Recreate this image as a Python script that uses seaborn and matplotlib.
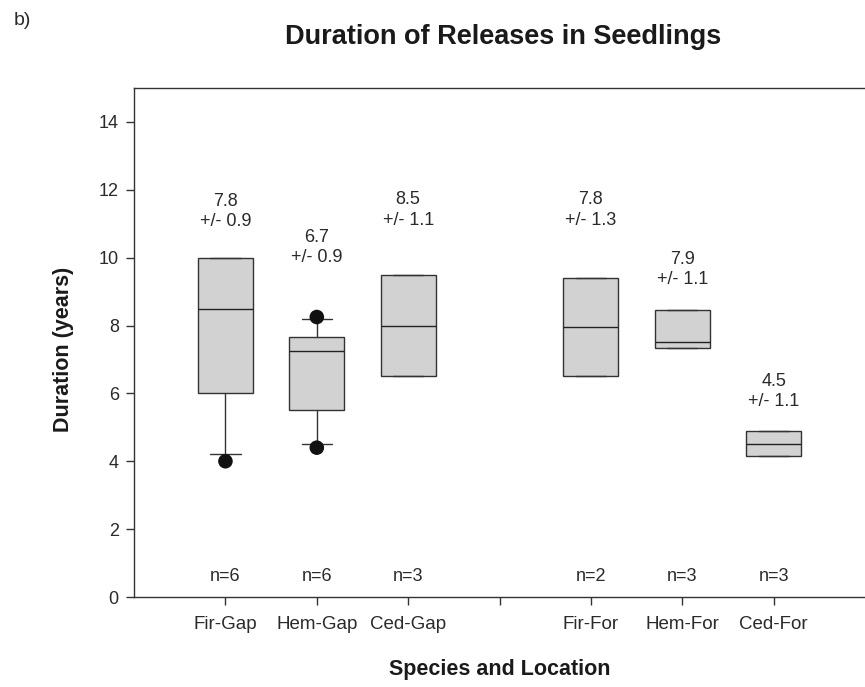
import matplotlib
matplotlib.use("Agg")
import matplotlib.pyplot as plt
import seaborn as sns
import pandas as pd

# ---- data ----
categories = ["Fir-Gap", "Hem-Gap", "Ced-Gap", "", "Fir-For", "Hem-For", "Ced-For"]
box_labels = ["Fir-Gap", "Hem-Gap", "Ced-Gap", "Fir-For", "Hem-For", "Ced-For"]
box_pos = [1, 2, 3, 5, 6, 7]
q1 = [6.0, 5.5, 6.5, 6.5, 7.35, 4.15]
median = [8.5, 7.25, 8.0, 7.95, 7.5, 4.5]
q3 = [10.0, 7.65, 9.5, 9.4, 8.45, 4.9]
whis_lo = [4.2, 4.5, 6.5, 6.5, 7.35, 4.15]
whis_hi = [10.0, 8.2, 9.5, 9.4, 8.45, 4.9]
outlier_group = ["Fir-Gap", "Hem-Gap", "Hem-Gap"]
outlier_pos = [1, 2, 2]
outlier_val = [4.0, 4.4, 8.25]
means = ["7.8", "6.7", "8.5", "7.8", "7.9", "4.5"]
sds = ["0.9", "0.9", "1.1", "1.3", "1.1", "1.1"]
label_y = [11.35, 10.3, 11.4, 11.4, 9.65, 6.05]
n_labels = ["n=6", "n=6", "n=3", "n=2", "n=3", "n=3"]
yticks = [0, 2, 4, 6, 8, 10, 12, 14]

sns.set_theme(style="ticks")
plt.rcParams["font.family"] = ["Liberation Sans", "DejaVu Sans"]

fig = plt.figure(figsize=(8.65, 6.87), dpi=100)
ax = fig.add_axes([0.155, 0.131, 0.845, 0.741])

stats = []
for i, lab in enumerate(box_labels):
    stats.append(dict(label=lab, q1=q1[i], med=median[i], q3=q3[i],
                      whislo=whis_lo[i], whishi=whis_hi[i], fliers=[]))

ax.bxp(stats, positions=box_pos, widths=0.6, patch_artist=True,
       showfliers=False, capwidths=0.33,
       boxprops=dict(facecolor="#d2d2d2", edgecolor="#333333", linewidth=1.0),
       medianprops=dict(color="#222222", linewidth=1.0),
       whiskerprops=dict(color="#333333", linewidth=1.0),
       capprops=dict(color="#333333", linewidth=1.0),
       manage_ticks=False)

out_df = pd.DataFrame({"pos": outlier_pos, "val": outlier_val, "group": outlier_group})
sns.scatterplot(data=out_df, x="pos", y="val", ax=ax, color="#111111",
                s=110, edgecolor="none", zorder=5, legend=False)

for i, p in enumerate(box_pos):
    ax.text(p, label_y[i], f"{means[i]}\n+/- {sds[i]}", ha="center", va="center",
            fontsize=13, color="#2a2a2a", linespacing=1.25)
    ax.text(p, 0.6, n_labels[i], ha="center", va="center", fontsize=13,
            color="#2a2a2a")

ax.set_xlim(0, 8)
ax.set_ylim(0, 15)
ax.set_xticks(range(1, 8))
ax.set_xticklabels(categories)
ax.set_yticks(yticks)
ax.tick_params(axis="both", colors="#333333", labelcolor="#2a2a2a",
               direction="out", length=6, width=1)
ax.tick_params(axis="x", labelsize=13.5, pad=8)
ax.tick_params(axis="y", labelsize=13, pad=5)
for s in ["left", "bottom", "top"]:
    ax.spines[s].set_color("#333333")
    ax.spines[s].set_linewidth(1.0)
ax.spines["right"].set_visible(False)

ax.set_xlabel("Species and Location", fontsize=15.5, fontweight="bold",
              color="#1a1a1a", va="center")
ax.xaxis.set_label_coords(0.5, -0.143)
ax.set_ylabel("Duration (years)", fontsize=15.5, fontweight="bold",
              color="#1a1a1a", va="center")
ax.yaxis.set_label_coords(-0.097, 0.487)

fig.text(0.582, 0.946, "Duration of Releases in Seedlings", ha="center",
         va="center", fontsize=19.5, fontweight="bold", color="#1a1a1a")
fig.text(0.016, 0.97, "b)", ha="left", va="center", fontsize=14, color="#2a2a2a")

fig.savefig("out.png", dpi=100)
